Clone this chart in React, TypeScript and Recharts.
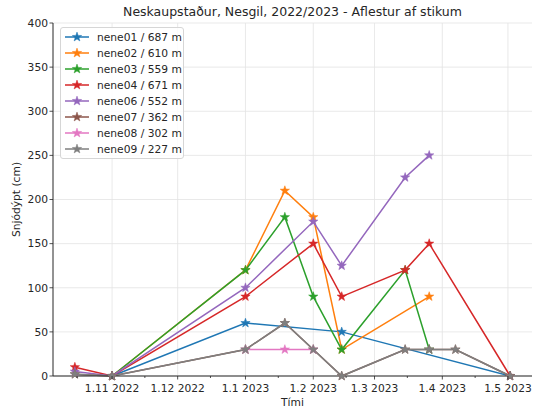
import { LineChart, Line, XAxis, YAxis, CartesianGrid, ReferenceLine, Legend, Label } from "recharts";

const dates = ["2022-10-15", "2022-11-01", "2023-01-01", "2023-01-19", "2023-02-01", "2023-02-14", "2023-03-15", "2023-03-26", "2023-04-07", "2023-05-02"];

const nene01 = [null, 0, 60, null, null, 50, null, null, null, 0];
const nene02 = [null, 0, 120, 210, 180, 30, null, 90, null, null];
const nene03 = [null, 0, 120, 180, 90, 30, 120, 30, null, null];
const nene04 = [10, 0, 90, null, 150, 90, 120, 150, null, 0];
const nene06 = [5, 0, 100, null, 175, 125, 225, 250, null, null];
const nene07 = [2, 0, 30, 60, 30, 0, 30, 30, 30, 0];
const nene08 = [null, null, 30, 30, 30, null, null, null, null, null];
const nene09 = [2, 0, 30, 60, 30, 0, 30, 30, 30, 0];

const series = [
  { key: "nene01", name: "nene01 / 687 m", color: "#1f77b4", values: nene01 },
  { key: "nene02", name: "nene02 / 610 m", color: "#ff7f0e", values: nene02 },
  { key: "nene03", name: "nene03 / 559 m", color: "#2ca02c", values: nene03 },
  { key: "nene04", name: "nene04 / 671 m", color: "#d62728", values: nene04 },
  { key: "nene06", name: "nene06 / 552 m", color: "#9467bd", values: nene06 },
  { key: "nene07", name: "nene07 / 362 m", color: "#8c564b", values: nene07 },
  { key: "nene08", name: "nene08 / 302 m", color: "#e377c2", values: nene08 },
  { key: "nene09", name: "nene09 / 227 m", color: "#7f7f7f", values: nene09 },
];

const majorTicks = ["2022-11-01", "2022-12-01", "2023-01-01", "2023-02-01", "2023-03-01", "2023-04-01", "2023-05-01"];
const majorLabels = ["1.11 2022", "1.12 2022", "1.1 2023", "1.2 2023", "1.3 2023", "1.4 2023", "1.5 2023"];
const minorTicks = ["2022-10-16", "2022-11-16", "2022-12-16", "2023-01-16", "2023-02-16", "2023-03-16", "2023-04-16"];
const xRange = ["2022-10-05", "2023-05-12"];
const yTicks = [0, 50, 100, 150, 200, 250, 300, 350, 400];

const toDay = (s: string) => {
  const [y, m, d] = s.split("-").map(Number);
  return Date.UTC(y, m - 1, d) / 86400000;
};

const rows = dates.map((d, i) => {
  const row: any = { t: toDay(d) };
  series.forEach((s) => (row[s.key] = s.values[i]));
  return row;
});

const majorDays = majorTicks.map(toDay);
const allTicks = [...majorDays, ...minorTicks.map(toDay)].sort((a, b) => a - b);
const FONT = "DejaVu Sans, sans-serif";
const INK = "#262626";
const GRID = "#e3e3e3";

function Star({ cx, cy, fill, r = 4.9 }: any) {
  const pts: string[] = [];
  for (let k = 0; k < 10; k++) {
    const rad = k % 2 === 0 ? r : r * 0.4;
    const a = -Math.PI / 2 + (k * Math.PI) / 5;
    pts.push(`${cx + rad * Math.cos(a)},${cy + rad * Math.sin(a)}`);
  }
  return <polygon points={pts.join(" ")} fill={fill} stroke={fill} strokeWidth={0.5} />;
}

function XTick({ x, y, payload }: any) {
  const i = majorDays.indexOf(payload.value);
  const major = i >= 0;
  return (
    <g>
      <line x1={x} x2={x} y1={y} y2={y + (major ? 3.5 : 2)} stroke={INK} strokeWidth={0.8} />
      {major && (
        <text x={x} y={y + 8} dy="0.71em" textAnchor="middle" fill={INK} fontSize={10.7} fontFamily={FONT}>
          {majorLabels[i]}
        </text>
      )}
    </g>
  );
}

function LegendBox() {
  return (
    <div
      style={{
        border: "1px solid #d6d6d6",
        borderRadius: 3,
        background: "rgba(255,255,255,0.85)",
        padding: "1px 0 1px 4px",
        fontFamily: FONT,
        fontSize: 10.7,
        color: INK,
        boxSizing: "border-box",
        width: 124,
      }}
    >
      {series.map((s) => (
        <div key={s.key} style={{ display: "flex", alignItems: "center", height: 16 }}>
          <svg width={24} height={16} style={{ flex: "none" }}>
            <line x1={0} x2={24} y1={8} y2={8} stroke={s.color} strokeWidth={1.5} />
            <Star cx={12} cy={8} fill={s.color} />
          </svg>
          <span style={{ marginLeft: 8, whiteSpace: "nowrap" }}>{s.name}</span>
        </div>
      ))}
    </div>
  );
}

export default function App() {
  return (
    <div style={{ position: "absolute", left: 0, top: 0, width: 535, height: 413, background: "#fff", fontFamily: FONT }}>
      <div
        style={{
          position: "absolute",
          left: 53,
          top: 4,
          width: 479,
          textAlign: "center",
          fontSize: 12.5,
          color: INK,
          whiteSpace: "nowrap",
        }}
      >
        Neskaupstaður, Nesgil, 2022/2023 - Aflestur af stikum
      </div>
      <LineChart width={535} height={413} data={rows} margin={{ top: 23, right: 3, bottom: 0, left: 0 }}>
        <CartesianGrid vertical={false} stroke={GRID} strokeWidth={0.8} />
        {majorDays.map((d) => (
          <ReferenceLine key={d} x={d} stroke={GRID} strokeWidth={0.8} />
        ))}
        <XAxis
          dataKey="t"
          type="number"
          domain={[toDay(xRange[0]), toDay(xRange[1])]}
          allowDataOverflow
          ticks={allTicks}
          interval={0}
          tick={<XTick />}
          tickLine={false}
          tickSize={0}
          tickMargin={0}
          height={37}
          axisLine={{ stroke: INK, strokeWidth: 1 }}
        >
          <Label value="Tími" position="insideBottom" offset={7} fill={INK} fontSize={10.7} fontFamily={FONT} />
        </XAxis>
        <XAxis
          xAxisId="top"
          orientation="top"
          type="number"
          domain={[toDay(xRange[0]), toDay(xRange[1])]}
          tick={false}
          tickLine={false}
          height={0}
          axisLine={{ stroke: INK, strokeWidth: 1 }}
        />
        <YAxis
          domain={[0, 400]}
          ticks={yTicks}
          interval={0}
          width={53}
          tickSize={3.5}
          tickMargin={1.5}
          tick={{ fill: INK, fontSize: 10.7, fontFamily: FONT }}
          tickLine={{ stroke: INK, strokeWidth: 0.8 }}
          axisLine={{ stroke: INK, strokeWidth: 1 }}
        >
          <Label
            content={({ viewBox }: any) => (
              <text
                x={viewBox.x + 16}
                y={viewBox.y + viewBox.height / 2}
                transform={`rotate(-90 ${viewBox.x + 16} ${viewBox.y + viewBox.height / 2})`}
                textAnchor="middle"
                dominantBaseline="central"
                fill={INK}
                fontSize={10.7}
                fontFamily={FONT}
              >
                Snjódýpt (cm)
              </text>
            )}
          />
        </YAxis>
        <YAxis
          yAxisId="right"
          orientation="right"
          domain={[0, 400]}
          tick={false}
          tickLine={false}
          width={0}
          axisLine={{ stroke: INK, strokeWidth: 1 }}
        />
        {series.map((s) => (
          <Line
            key={s.key}
            dataKey={s.key}
            name={s.name}
            type="linear"
            stroke={s.color}
            strokeWidth={1.5}
            connectNulls
            isAnimationActive={false}
            dot={(p: any) =>
              p.value == null || p.cy == null ? <g key={p.index} /> : <Star key={p.index} cx={p.cx} cy={p.cy} fill={s.color} />
            }
            activeDot={false}
          />
        ))}
        <Legend
          layout="vertical"
          align="center"
          verticalAlign="middle"
          content={<LegendBox />}
          wrapperStyle={{ left: 60, top: 27, width: 124, height: "auto" }}
        />
      </LineChart>
    </div>
  );
}
